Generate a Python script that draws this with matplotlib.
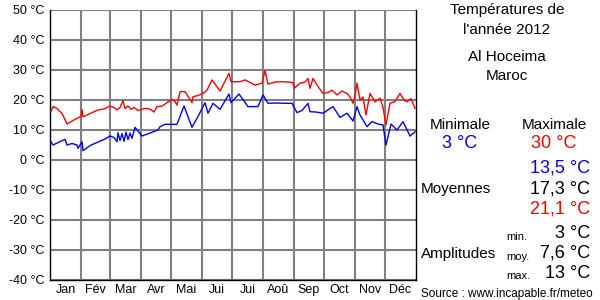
import matplotlib
matplotlib.use('Agg')
import matplotlib.pyplot as plt

plt.rcParams['font.family'] = ['Liberation Sans', 'DejaVu Sans']

#---------------------------------------------------------
#Data (day of year 2012, temperature °C)
#---------------------------------------------------------

max_days = [1, 3, 7, 12, 16, 17, 22, 27, 31, 32, 33, 40, 48, 54, 60, 64, 67, 70, 73, 75,
            78, 81, 84, 88, 90, 95, 100, 104, 107, 112, 117, 122, 125, 127, 130, 135,
            142, 143, 148, 153, 157, 162, 170, 179, 181, 190, 195, 205, 212, 215, 218,
            225, 232, 238, 243, 244, 250, 255, 258, 260, 263, 268, 273, 278, 282, 287,
            292, 297, 300, 303, 305, 307, 310, 313, 316, 320, 325, 330, 333, 336, 340,
            345, 350, 354, 357, 361, 365]
max_vals = [16.1, 17.8, 17.2, 15.5, 12.8, 12.0, 13.0, 13.9, 14.5, 16.9, 14.4, 15.5, 16.7,
            17.0, 18.0, 17.5, 16.7, 17.5, 19.8, 17.2, 18.0, 16.9, 17.5, 16.5, 16.7, 17.2,
            17.0, 16.0, 17.8, 18.0, 19.1, 20.2, 19.5, 18.3, 22.8, 22.8, 19.1, 21.1, 21.5,
            22.2, 23.3, 26.7, 23.0, 28.9, 26.1, 26.1, 26.7, 25.0, 25.6, 29.8, 25.3, 26.0,
            26.1, 26.0, 25.8, 23.9, 25.6, 26.0, 27.2, 23.9, 27.2, 24.5, 22.2, 22.5, 23.3,
            21.7, 23.0, 22.2, 21.0, 18.9, 21.5, 25.6, 20.0, 21.0, 15.0, 22.2, 19.4, 20.6,
            17.5, 11.7, 18.9, 19.5, 22.2, 20.0, 19.4, 20.5, 17.2]

min_days = [1, 3, 8, 15, 17, 22, 27, 28, 32, 33, 40, 48, 55, 60, 64, 67, 68, 70, 72, 74,
            76, 78, 80, 82, 85, 92, 100, 108, 110, 115, 127, 134, 142, 148, 155, 158,
            163, 170, 179, 181, 189, 198, 208, 213, 218, 225, 235, 242, 247, 252, 258,
            260, 266, 273, 283, 290, 297, 303, 307, 310, 317, 322, 328, 333, 336, 341,
            347, 353, 360, 365]
min_vals = [6.1, 5.0, 5.8, 6.9, 5.0, 5.5, 5.0, 3.9, 6.1, 3.1, 4.8, 6.0, 7.0, 8.0, 7.5, 6.1,
            9.1, 6.5, 8.8, 6.2, 9.3, 6.8, 9.0, 7.2, 10.9, 8.0, 9.0, 10.0, 11.1, 11.9, 11.9,
            18.0, 10.9, 14.5, 19.1, 15.6, 18.9, 16.9, 22.0, 19.1, 22.0, 17.8, 17.8, 21.7,
            18.9, 19.0, 18.9, 18.9, 15.8, 16.5, 18.9, 16.1, 16.0, 15.6, 17.8, 14.2, 15.6,
            13.0, 17.8, 15.0, 11.1, 12.8, 12.0, 11.7, 5.0, 12.0, 10.0, 12.8, 8.0, 9.4]

months = ['Jan', 'Fév', 'Mar', 'Avr', 'Mai', 'Jui', 'Jui', 'Aoû', 'Sep', 'Oct', 'Nov', 'Déc']
month_starts = [0, 31, 60, 91, 121, 152, 182, 213, 244, 274, 305, 335, 366]
y_ticks = [50, 40, 30, 20, 10, 0, -10, -20, -30, -40]

#---------------------------------------------------------
#Plot
#---------------------------------------------------------

fig = plt.figure(figsize=(6, 3), dpi=100)
ax = fig.add_axes([50/600, 20/300, 366/600, 270/300])

ax.set_xlim(0, 366)
ax.set_ylim(-40, 50)

for t in y_ticks:
    ax.axhline(t, color='#808080', lw=1.5, zorder=1)
for d in month_starts[1:-1]:
    ax.axvline(d, color='#808080', lw=1.5, zorder=1)

ax.plot(max_days, max_vals, color='#ff0000', lw=1, zorder=3)
ax.plot(min_days, min_vals, color='#0000ff', lw=1, zorder=3)

ax.set_yticks(y_ticks)
ax.set_yticklabels([f'{t} °C' for t in y_ticks], fontsize=9)
ax.tick_params(axis='y', length=0, pad=4)

centers = [(month_starts[i] + month_starts[i + 1]) / 2 for i in range(12)]
ax.set_xticks(centers)
ax.set_xticklabels(months, fontsize=9)
ax.tick_params(axis='x', length=0, pad=3)

ax.spines['top'].set_visible(False)
for s in ['left', 'right', 'bottom']:
    ax.spines[s].set_color('black')
    ax.spines[s].set_linewidth(1)

#---------------------------------------------------------
#Side panel
#---------------------------------------------------------

def t(x, y, s, **kw):
    fig.text(x / 600, 1 - y / 300, s, va='center', **kw)

t(507, 10, 'Températures de', ha='center', fontsize=11)
t(507, 30, "l'année 2012", ha='center', fontsize=11)
t(507, 57, 'Al Hoceima', ha='center', fontsize=11)
t(507, 76, 'Maroc', ha='center', fontsize=11)

t(460, 125, 'Minimale', ha='center', fontsize=11)
t(554, 125, 'Maximale', ha='center', fontsize=11)
t(460, 143, '3 °C', ha='center', fontsize=13, color='#0000ff')
t(554, 143, '30 °C', ha='center', fontsize=13, color='#ff0000')

t(590, 168, '13,5 °C', ha='right', fontsize=13, color='#0000ff')
t(590, 189, '17,3 °C', ha='right', fontsize=13, color='black')
t(590, 209, '21,1 °C', ha='right', fontsize=13, color='#ff0000')
t(421, 189, 'Moyennes', ha='left', fontsize=11)

t(506, 237, 'min.', ha='left', fontsize=8)
t(506, 257, 'moy.', ha='left', fontsize=8)
t(506, 276, 'max.', ha='left', fontsize=8)
t(590, 233, '3 °C', ha='right', fontsize=13)
t(590, 253, '7,6 °C', ha='right', fontsize=13)
t(590, 273, '13 °C', ha='right', fontsize=13)
t(421, 254, 'Amplitudes', ha='left', fontsize=11)

t(421, 294, 'Source : www.incapable.fr/meteo', ha='left', fontsize=8.5)

fig.savefig('out.png', dpi=100)
